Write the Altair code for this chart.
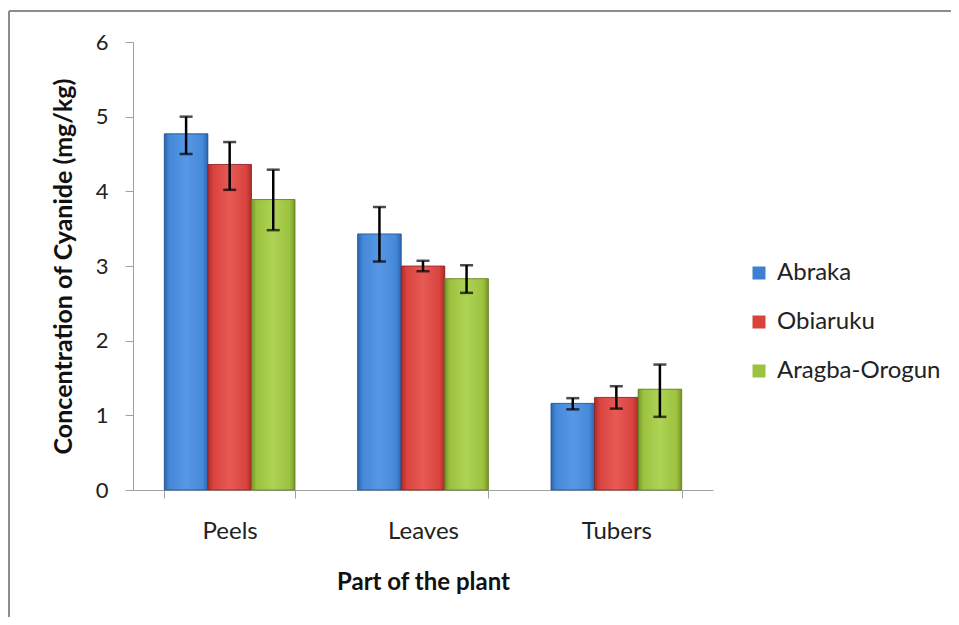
import altair as alt
import pandas as pd

parts = ["Peels", "Leaves", "Tubers"]
sites = ["Abraka", "Obiaruku", "Aragba-Orogun"]
colors = ["#3f7fd2", "#d9423d", "#9cc23f"]

abraka = [4.77, 3.43, 1.16]
abraka_lo = [4.50, 3.06, 1.08]
abraka_hi = [5.00, 3.79, 1.23]
obiaruku = [4.36, 3.00, 1.24]
obiaruku_lo = [4.02, 2.93, 1.09]
obiaruku_hi = [4.66, 3.07, 1.39]
aragba = [3.89, 2.83, 1.35]
aragba_lo = [3.48, 2.64, 0.98]
aragba_hi = [4.29, 3.01, 1.68]

rows = []
for site, vals, los, his in [
    ("Abraka", abraka, abraka_lo, abraka_hi),
    ("Obiaruku", obiaruku, obiaruku_lo, obiaruku_hi),
    ("Aragba-Orogun", aragba, aragba_lo, aragba_hi),
]:
    for p, v, lo, hi in zip(parts, vals, los, his):
        rows.append({"part": p, "site": site, "value": v, "lo": lo, "hi": hi})
df = pd.DataFrame(rows)

FONT = "Lato"

x_enc = alt.X(
    "part:N", sort=parts,
    scale=alt.Scale(paddingInner=0.324, paddingOuter=0.162),
    axis=alt.Axis(
        title="Part of the plant", labelAngle=0, tickBand="extent",
        labelFontSize=24, labelPadding=21, titlePadding=27,
        titleFontSize=24, titleFontWeight="bold",
        domainColor="#a0a0a0", tickColor="#a0a0a0", tickSize=8,
        labelColor="#222222", titleColor="#111111",
        labelFont=FONT, titleFont=FONT,
    ),
)
xo_enc = alt.XOffset("site:N", sort=sites, scale=alt.Scale(paddingInner=0, paddingOuter=0))
y_scale = alt.Scale(domain=[0, 6], nice=False)
y_axis = alt.Axis(
    title="Concentration of Cyanide (mg/kg)", values=[0, 1, 2, 3, 4, 5, 6],
    format="d",
    grid=False, tickSize=8, labelPadding=17, titlePadding=19,
    labelFontSize=22, titleFontSize=25, titleFontWeight="bold",
    domainColor="#a0a0a0", tickColor="#a0a0a0",
    labelColor="#222222", titleColor="#111111",
    labelFont=FONT, titleFont=FONT,
)

base = alt.Chart(df)

bars = base.mark_bar().encode(
    x=x_enc,
    xOffset=xo_enc,
    y=alt.Y("value:Q", scale=y_scale, axis=y_axis),
    color=alt.Color(
        "site:N", sort=sites,
        scale=alt.Scale(domain=sites, range=colors),
        legend=alt.Legend(
            title=None, orient="none", legendX=614, legendY=219,
            symbolType="square", symbolSize=169, symbolStrokeWidth=0,
            labelFontSize=24, labelFont=FONT, labelColor="#222222",
            rowPadding=25, labelOffset=6, padding=0, labelLimit=0,
        ),
    ),
)

grads = {
    "Abraka": ["#2d65b0", "#4589d8", "#5797e6", "#4589d8", "#2d65b0", "#24508c"],
    "Obiaruku": ["#a92e2a", "#d9433e", "#e65a55", "#d9433e", "#a92e2a", "#8a2522"],
    "Aragba-Orogun": ["#76982a", "#9cc23f", "#aed355", "#9cc23f", "#76982a", "#5f7a22"],
}
grad_layers = []
for s in sites:
    g = grads[s]
    grad_layers.append(
        base.transform_filter(alt.datum.site == s).mark_bar(
            color=alt.Gradient(
                gradient="linear", x1=0, x2=1, y1=0, y2=0,
                stops=[
                    alt.GradientStop(offset=0, color=g[0]),
                    alt.GradientStop(offset=0.12, color=g[1]),
                    alt.GradientStop(offset=0.5, color=g[2]),
                    alt.GradientStop(offset=0.88, color=g[3]),
                    alt.GradientStop(offset=1, color=g[4]),
                ],
            ),
            stroke=g[5], strokeWidth=0.8,
        ).encode(x=x_enc, xOffset=xo_enc, y=alt.Y("value:Q", scale=y_scale))
    )

err = base.mark_rule(color="black", strokeWidth=2.5).encode(
    x=x_enc, xOffset=xo_enc,
    y=alt.Y("lo:Q", scale=y_scale), y2="hi:Q",
)
cap_lo = base.mark_tick(color="black", thickness=2.5, size=13, orient="horizontal").encode(
    x=x_enc, xOffset=xo_enc, y=alt.Y("lo:Q", scale=y_scale),
)
cap_hi = base.mark_tick(color="black", thickness=2.5, size=13, orient="horizontal").encode(
    x=x_enc, xOffset=xo_enc, y=alt.Y("hi:Q", scale=y_scale),
)

frame_df = pd.DataFrame({"k": [0]})
frame_top = alt.Chart(frame_df).mark_rule(color="#8c8c8c", strokeWidth=2, clip=False).encode(
    x=alt.value(-124), x2=alt.value(1200), y=alt.value(-31)
)
frame_left = alt.Chart(frame_df).mark_rule(color="#8c8c8c", strokeWidth=2, clip=False).encode(
    x=alt.value(-124), y=alt.value(-31), y2=alt.value(1200)
)

chart = alt.layer(frame_top, frame_left, bars, *grad_layers, err, cap_lo, cap_hi).properties(
    width=580, height=448,
    autosize=alt.AutoSizeParams(type="none"),
    padding={"left": 125, "top": 34, "right": 238, "bottom": 127},
    background="white",
).configure_view(stroke=None)

chart.save("out.html", embed_options={"renderer": "svg", "actions": False})
